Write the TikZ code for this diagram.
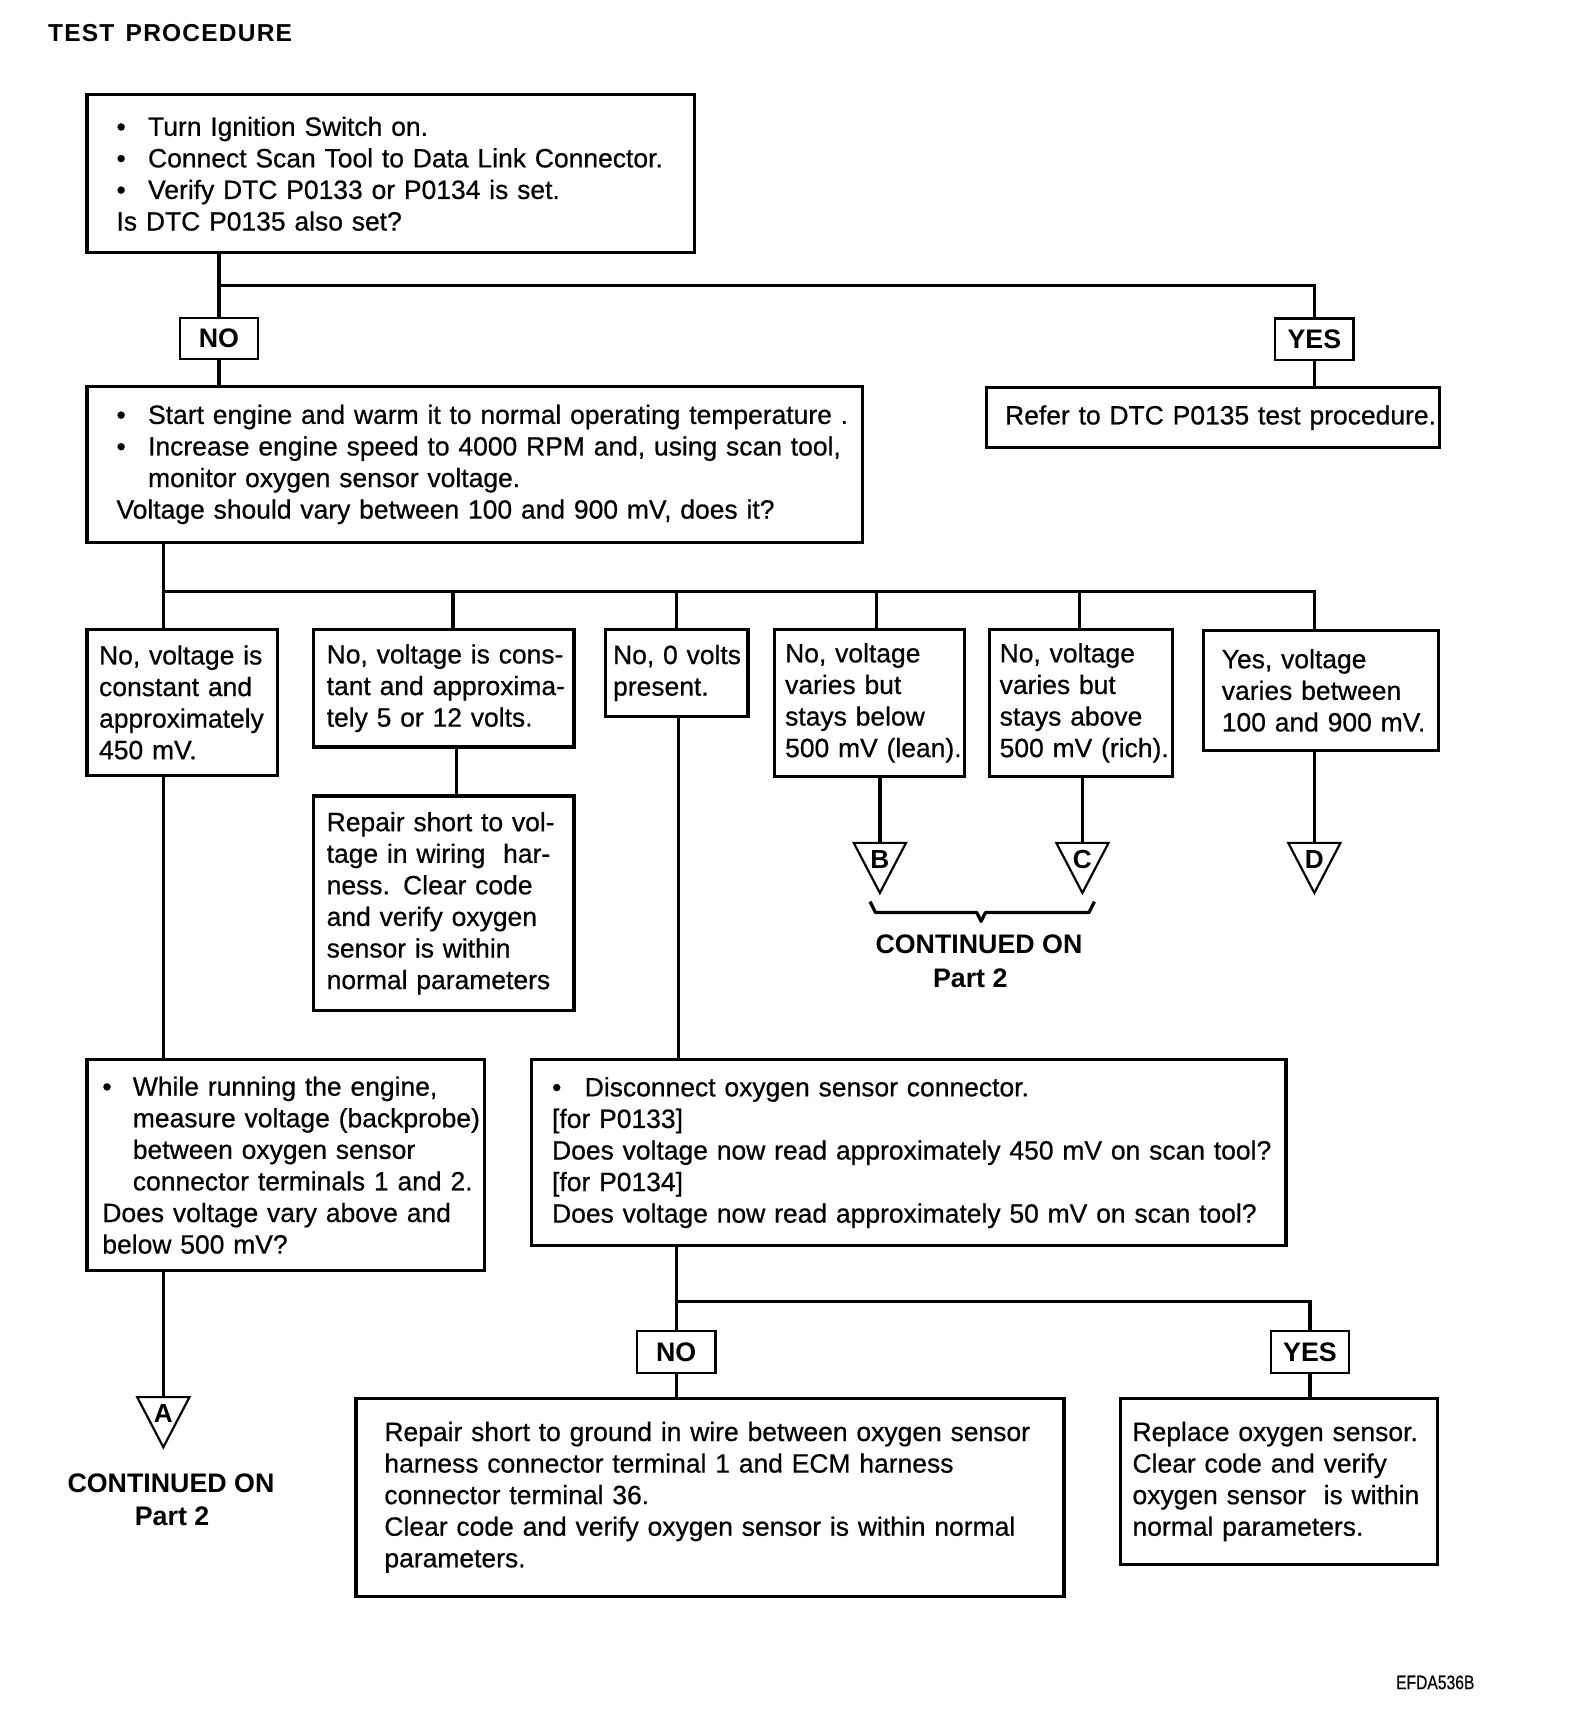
\documentclass[tikz,border=0pt]{standalone}
\usepackage{fontspec}
\setmainfont{Liberation Sans}[UprightFeatures={FakeBold=0.6}]
\usepackage{graphicx}
\newcommand{\bl}[1]{\makebox[#1][l]{•}}
\begin{document}
\begin{tikzpicture}[x=1pt,y=-1pt,
  txt/.style={font=\fontsize{24.3pt}{29pt}\selectfont},
  box/.style={txt, draw, line width=3pt, rectangle, anchor=north west,
    inner ysep=0pt, outer sep=0pt, align=left},
  lab/.style={draw, line width=2pt, font=\bfseries\fontsize{24.6pt}{29pt}\selectfont,
    minimum width=72pt, minimum height=38pt, inner sep=0pt, outer sep=0pt},
  conn/.style={line width=3pt},
  tri/.style={line width=2pt, line join=miter},
  letter/.style={font=\bfseries\fontsize{24pt}{26pt}\selectfont, inner sep=0pt},
  boldtxt/.style={font=\bfseries\fontsize{24.6pt}{29pt}\selectfont, inner sep=0pt},
  brace/.style={line width=3pt, line join=round}
]
\useasboundingbox (0,0) rectangle (1440,1574);

% title
\node[anchor=base west, inner sep=0pt,
  font=\bfseries\fontsize{22.5pt}{24pt}\selectfont\addfontfeature{LetterSpace=5}]
  (title) at (44,38) {TEST\hspace{3pt} PROCEDURE};

% boxes
\node[box, minimum width=558pt, minimum height=145pt, inner xsep=27pt, text width=504pt]
  (box1) at (80,87) {%
  \mbox{\bl{29pt}Turn Ignition Switch on.}\\
  \mbox{\bl{29pt}Connect Scan Tool to Data Link Connector.}\\
  \mbox{\bl{29pt}Verify DTC P0133 or P0134 is set.}\\
  \mbox{Is DTC P0135 also set?}};

\node[box, minimum width=712pt, minimum height=143pt, inner xsep=27pt, text width=658pt]
  (box2) at (80,355) {%
  \mbox{\bl{29pt}Start engine and warm it to normal operating temperature .}\\
  \mbox{\bl{29pt}Increase engine speed to 4000 RPM and, using scan tool,}\\
  \mbox{\hspace*{29pt}monitor oxygen sensor voltage.}\\
  \mbox{Voltage should vary between 100 and 900 mV, does it?}};

\node[box, minimum width=416pt, minimum height=55pt, inner xsep=17pt, text width=382pt]
  (refer) at (906,356) {\mbox{Refer to DTC P0135 test procedure.}};

\node[box, minimum width=175pt, minimum height=134pt, inner xsep=11pt, text width=153pt]
  (b1) at (80,578) {\mbox{No, voltage is}\\\mbox{constant and}\\\mbox{approximately}\\\mbox{450 mV.}};
\node[box, minimum width=239pt, minimum height=108pt, inner xsep=12pt, text width=215pt]
  (b2) at (288,578) {\mbox{No, voltage is cons-}\\\mbox{tant and approxima-}\\\mbox{tely 5 or 12 volts.}};
\node[box, minimum width=131pt, minimum height=80pt, inner xsep=7pt, text width=117pt]
  (b3) at (556,578) {\mbox{No, 0 volts}\\\mbox{present.}};
\node[box, minimum width=175pt, minimum height=135pt, inner xsep=10pt, text width=155pt]
  (b4) at (711,578) {\mbox{No, voltage}\\\mbox{varies but}\\\mbox{stays below}\\\mbox{500 mV (lean).}};
\node[box, minimum width=168pt, minimum height=135pt, inner xsep=9pt, text width=150pt]
  (b5) at (909,578) {\mbox{No, voltage}\\\mbox{varies but}\\\mbox{stays above}\\\mbox{500 mV (rich).}};
\node[box, minimum width=216pt, minimum height=110pt, inner xsep=17pt, text width=182pt]
  (b6) at (1105,579) {\mbox{Yes, voltage}\\\mbox{varies between}\\\mbox{100 and 900 mV.}};

\node[box, minimum width=239pt, minimum height=197pt, inner xsep=12pt, text width=215pt]
  (rep) at (288,731) {\mbox{Repair short to vol-}\\\mbox{tage in wiring\ \ har-}\\\mbox{ness. Clear code}\\\mbox{and verify oxygen}\\\mbox{sensor is within}\\\mbox{normal parameters}};

\node[box, minimum width=365pt, minimum height=194pt, inner xsep=14pt, text width=337pt]
  (while) at (80,973) {%
  \mbox{\bl{28pt}While running the engine,}\\
  \mbox{\hspace*{28pt}measure voltage (backprobe)}\\
  \mbox{\hspace*{28pt}between oxygen sensor}\\
  \mbox{\hspace*{28pt}connector terminals 1 and 2.}\\
  \mbox{Does voltage vary above and}\\
  \mbox{below 500 mV?}};

\node[box, minimum width=693pt, minimum height=171pt, inner xsep=19pt, text width=655pt]
  (disc) at (488,973) {%
  \mbox{\bl{30pt}Disconnect oxygen sensor connector.}\\
  \mbox{[for P0133]}\\
  \mbox{Does voltage now read approximately 450 mV on scan tool?}\\
  \mbox{[for P0134]}\\
  \mbox{Does voltage now read approximately 50 mV on scan tool?}};

\node[box, minimum width=650pt, minimum height=182pt, inner xsep=26pt, text width=598pt]
  (gnd) at (327,1284) {%
  \mbox{Repair short to ground in wire between oxygen sensor}\\
  \mbox{harness connector terminal 1 and ECM harness}\\
  \mbox{connector terminal 36.}\\
  \mbox{Clear code and verify oxygen sensor is within normal}\\
  \mbox{parameters.}};

\node[box, minimum width=291pt, minimum height=153pt, inner xsep=11pt, text width=269pt]
  (repl) at (1029,1284) {%
  \mbox{Replace oxygen sensor.}\\
  \mbox{Clear code and verify}\\
  \mbox{oxygen sensor\ \ is within}\\
  \mbox{normal parameters.}};

% labels
\node[lab] (no1) at (201,311) {NO};
\node[lab] (yes1) at (1207,311.5) {YES};
\node[lab] (no2) at (621,1241.5) {NO};
\node[lab] (yes2) at (1203,1241.5) {YES};

% junction coordinates
\coordinate (j1) at (201,262);
\coordinate (j2) at (150,543);
\coordinate (j2e) at (1207,543);
\coordinate (d2) at (416,543);
\coordinate (d3) at (621,543);
\coordinate (d4) at (805,543);
\coordinate (d5) at (991,543);
\coordinate (v2) at (419,720);
\coordinate (v3) at (623,720);
\coordinate (j3) at (621,1195);
\coordinate (tA) at (150,1283);
\coordinate (tB) at (808,774);
\coordinate (tC) at (994,774);
\coordinate (tD) at (1207,774);

% connectors
\draw[conn] (box1.south -| no1) -- (no1.north);
\draw[conn] (j1) -| (yes1.north);
\draw[conn] (no1.south) -- (no1.south |- box2.north);
\draw[conn] (yes1.south) -- (yes1.south |- refer.north);

\draw[conn] (box2.south -| j2) -- (j2 |- b1.north);
\draw[conn] (j2) -| (b6.north -| j2e);
\draw[conn] (d2) -- (d2 |- b2.north);
\draw[conn] (d3) -- (d3 |- b3.north);
\draw[conn] (d4) -- (d4 |- b4.north);
\draw[conn] (d5) -- (d5 |- b5.north);

\draw[conn] (b2.south -| v2) -- (rep.north -| v2);
\draw[conn] (b1.south -| j2) -- (while.north -| j2);
\draw[conn] (b3.south -| v3) -- (disc.north -| v3);
\draw[conn] (b4.south -| tB) -- (tB);
\draw[conn] (b5.south -| tC) -- (tC);
\draw[conn] (b6.south -| tD) -- (tD);
\draw[conn] (while.south -| tA) -- (tA);

\draw[conn] (disc.south -| no2) -- (no2.north);
\draw[conn] (j3) -| (yes2.north);
\draw[conn] (no2.south) -- (no2.south |- gnd.north);
\draw[conn] (yes2.south) -- (yes2.south |- repl.north);

% connector triangles
\foreach \t/\l in {tA/A, tB/B, tC/C, tD/D}{
  \draw[tri] (\t) ++(-24,0) -- ++(48,0) -- ++(-24,46) -- cycle;
  \path (\t) ++(0,15) node[letter] (l\l) {\l};
}

% brace under B and C
\draw[brace] (799,828) -- (804,838) -- (897,838) -- (901,846) -- (905,838) -- (1000,838) -- (1005,828);

\node[boldtxt] (cont1) at (899,867) {CONTINUED ON};
\node[boldtxt] (part1) at (891,898) {Part 2};
\node[boldtxt] (cont2) at (157,1362) {CONTINUED ON};
\node[boldtxt] (part2) at (158,1392) {Part 2};

\node[inner sep=0pt, font=\fontsize{18pt}{20pt}\selectfont] (code) at (1318,1545)
  {\scalebox{0.8}[1]{EFDA536B}};
\end{tikzpicture}
\end{document}
